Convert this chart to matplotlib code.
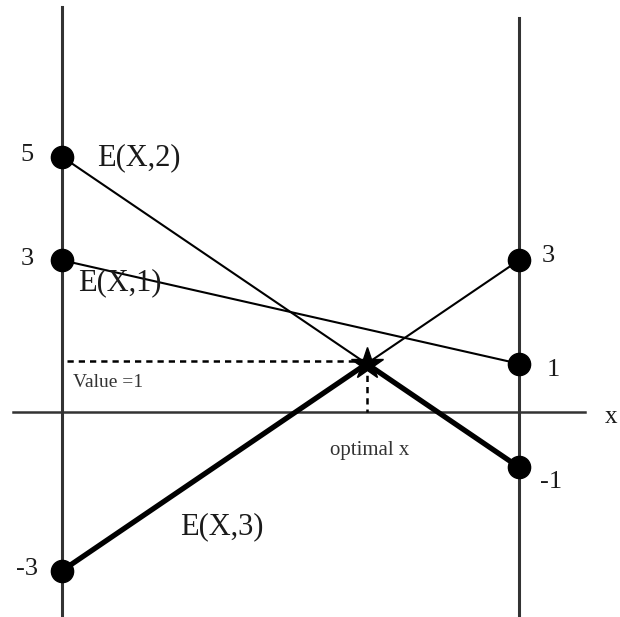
import matplotlib
matplotlib.use("Agg")
import matplotlib.pyplot as plt

plt.rcParams['font.family'] = 'Liberation Serif'

# endpoints of the three linear functions at x=0 and x=1
names = ["E(X,1)", "E(X,2)", "E(X,3)"]
left_vals = [3, 5, -3]
right_vals = [1, -1, 3]
opt_x = 2 / 3
opt_val = 1

fig = plt.figure(figsize=(6.2, 6.17), dpi=100)
ax = fig.add_axes([0, 0, 1, 1])
ax.set_xlim(-0.1357, 1.221)
ax.set_ylim(-3.894, 8.029)
ax.axis('off')

txt = '#1a1a1a'

# frame lines
ax.plot([0, 0], [-3.86, 7.89], color='#333333', lw=2.2)
ax.plot([1, 1], [-3.86, 7.68], color='#333333', lw=2.2)
ax.plot([-0.107, 1.144], [0.068, 0.068], color='#333333', lw=1.8)
ax.text(1.188, -0.02, "x", fontsize=18, ha='left', va='center', color=txt)

# thin lines
for l, r in zip(left_vals, right_vals):
    ax.plot([0, 1], [l, r], color='black', lw=1.5)

# lower envelope (thick)
ax.plot([0, opt_x, 1], [left_vals[2], opt_val, right_vals[1]], color='black', lw=3.8)

# points
for v in left_vals:
    ax.plot(0, v, 'o', color='black', ms=16)
for v in right_vals:
    ax.plot(1, v, 'o', color='black', ms=16)

# optimum
ax.plot([0.01, opt_x], [1.05, 1.05], color='black', lw=1.8, ls=(0, (2.5, 2)))
ax.plot([opt_x, opt_x], [opt_val, 0.068], color='black', lw=1.8, ls=(0, (2.5, 2)))
ax.plot(opt_x, opt_val, '*', color='black', ms=24)

# value labels
for v in left_vals:
    ax.text(-0.076, v + 0.03, str(v), fontsize=19, ha='center', va='center', color=txt)
ax.text(1.063, 3.08, "3", fontsize=19, ha='center', va='center', color=txt)
ax.text(1.074, 0.88, "1", fontsize=19, ha='center', va='center', color=txt)
ax.text(1.07, -1.285, "-1", fontsize=19, ha='center', va='center', color=txt)

ax.text(0.0766, 4.976, names[1], fontsize=22, ha='left', va='center', color=txt)
ax.text(0.035, 2.56, names[0], fontsize=22, ha='left', va='center', color=txt)
ax.text(0.258, -2.155, names[2], fontsize=22, ha='left', va='center', color=txt)
ax.text(0.024, 0.647, "Value =1", fontsize=14, ha='left', va='center', color='#333333')
ax.text(0.674, -0.667, "optimal x", fontsize=15, ha='center', va='center', color='#333333')

fig.savefig('out.png', dpi=100)
